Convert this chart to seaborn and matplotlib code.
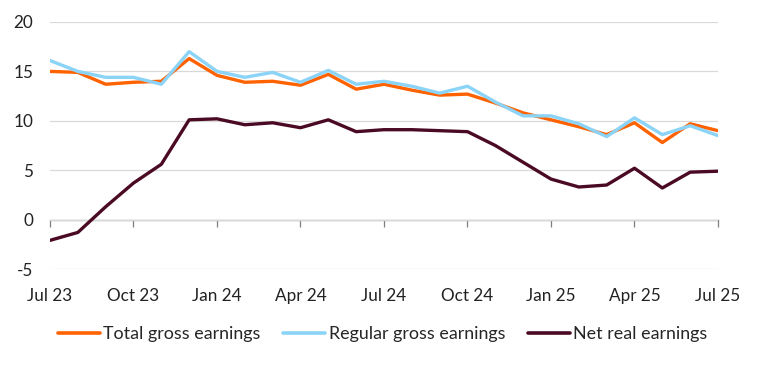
import matplotlib
matplotlib.use("Agg")
import matplotlib.pyplot as plt
import seaborn as sns
import pandas as pd

months = ["Jul 23", "Aug 23", "Sep 23", "Oct 23", "Nov 23", "Dec 23",
          "Jan 24", "Feb 24", "Mar 24", "Apr 24", "May 24", "Jun 24",
          "Jul 24", "Aug 24", "Sep 24", "Oct 24", "Nov 24", "Dec 24",
          "Jan 25", "Feb 25", "Mar 25", "Apr 25", "May 25", "Jun 25", "Jul 25"]

total_gross = [15.0, 14.9, 13.7, 13.9, 14.0, 16.3, 14.6, 13.9, 14.0, 13.6, 14.7, 13.2,
               13.7, 13.1, 12.6, 12.7, 11.8, 10.8, 10.1, 9.4, 8.6, 9.8, 7.8, 9.7, 9.0]
regular_gross = [16.1, 15.0, 14.4, 14.4, 13.7, 17.0, 15.0, 14.4, 14.9, 13.9, 15.1, 13.7,
                 14.0, 13.5, 12.8, 13.5, 11.9, 10.5, 10.5, 9.7, 8.4, 10.3, 8.6, 9.5, 8.5]
net_real = [-2.1, -1.3, 1.3, 3.7, 5.6, 10.1, 10.2, 9.6, 9.8, 9.3, 10.1, 8.9,
            9.1, 9.1, 9.0, 8.9, 7.5, 5.8, 4.1, 3.3, 3.5, 5.2, 3.2, 4.8, 4.9]

series_names = ["Total gross earnings", "Regular gross earnings", "Net real earnings"]
colors = ["#FF6200", "#8BD3F7", "#4B0A24"]

tick_labels = ["Jul 23", "Oct 23", "Jan 24", "Apr 24", "Jul 24", "Oct 24", "Jan 25", "Apr 25", "Jul 25"]
y_ticks = [-5, 0, 5, 10, 15, 20]

idx = list(range(len(months)))
df = pd.DataFrame({
    "month": idx * 3,
    "value": total_gross + regular_gross + net_real,
    "series": [series_names[0]] * len(idx) + [series_names[1]] * len(idx) + [series_names[2]] * len(idx),
})

sns.set_theme(style="white")
plt.rcParams["font.family"] = ["Lato", "DejaVu Sans"]

fig = plt.figure(figsize=(7.65, 3.65), dpi=100)
ax = fig.add_axes([50 / 765, 1 - 269 / 365, (718 - 50) / 765, (269 - 22) / 365])

sns.lineplot(data=df, x="month", y="value", hue="series", hue_order=series_names,
             palette=colors, linewidth=2.4, ax=ax, legend=True)

ax.set_xlim(0, len(months) - 1)
ax.set_ylim(-5, 20)
ax.set_yticks(y_ticks)
ax.set_yticklabels([str(v) for v in y_ticks])
ax.grid(axis="y", color="#D9D9D9", linewidth=0.9)
ax.set_axisbelow(True)
for s in ax.spines.values():
    s.set_visible(False)

tick_pos = [months.index(t) for t in tick_labels]
ax.set_xticks(tick_pos)
ax.set_xticklabels(tick_labels)
ax.tick_params(axis="x", length=0, pad=14, labelsize=12.3, colors="#222222")
ax.tick_params(axis="y", length=0, pad=12, labelsize=12.3, colors="#222222")
for lab in ax.get_yticklabels():
    lab.set_horizontalalignment("right")
ax.set_xlabel("")
ax.set_ylabel("")

# zero axis with quarterly ticks
zero_frac = (0 - (-5)) / (20 - (-5))
sec = ax.secondary_xaxis(zero_frac)
sec.set_xticks(tick_pos)
sec.set_xticklabels([])
sec.tick_params(axis="x", direction="out", length=5, color="#7F7F7F", width=0.9)
sec.spines["bottom"].set_color("#7F7F7F")
sec.spines["bottom"].set_linewidth(0.9)
for k in ["top", "left", "right"]:
    sec.spines[k].set_visible(False)

handles, labels = ax.get_legend_handles_labels()
ax.legend(handles, labels, loc="center", bbox_to_anchor=(0.5, 1 - 334 / 365),
          bbox_transform=fig.transFigure, ncol=3, frameon=False, fontsize=12.9,
          handlelength=2.35, handletextpad=0.2, columnspacing=1.25)
for line in ax.get_legend().get_lines():
    line.set_linewidth(2.6)

fig.savefig("out.png", dpi=100)
